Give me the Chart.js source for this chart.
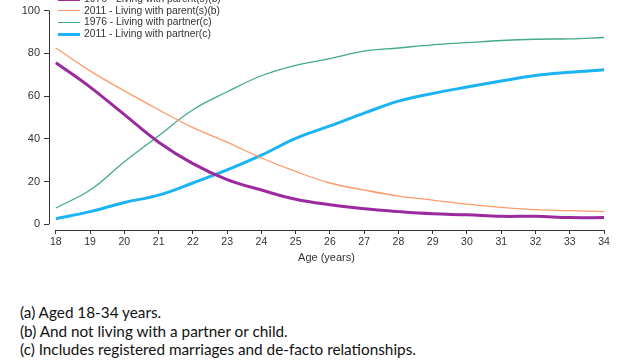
<!DOCTYPE html>
<html>
<head>
<meta charset="utf-8">
<script src="https://cdn.jsdelivr.net/npm/chart.js@4.4.1/dist/chart.umd.min.js"></script>
<style>
  body { margin: 0; width: 640px; height: 360px; background: #fff; position: relative; overflow: hidden; }
  #wrap { position: absolute; left: 0; top: 0; width: 640px; height: 275px; }
  #legend { position: absolute; left: 58px; top: -7px; font: 10.3px "Liberation Sans", sans-serif; color: #333; }
  .item { height: 11.7px; line-height: 11.7px; white-space: nowrap; }
  .swatch { display: inline-block; width: 22px; vertical-align: middle; margin-right: 4px; }
  #notes { position: absolute; left: 20px; top: 303px; font: 15.3px Lato, sans-serif; color: #111; line-height: 18.5px; }
</style>
</head>
<body>
<div id="wrap"><canvas id="myChart"></canvas></div>
<div id="legend"></div>
<div id="notes">
  <div>(a) Aged 18-34 years.</div>
  <div>(b) And not living with a partner or child.</div>
  <div>(c) Includes registered marriages and de-facto relationships.</div>
</div>
<script>
// ages on the x axis
const ages = [18, 19, 20, 21, 22, 23, 24, 25, 26, 27, 28, 29, 30, 31, 32, 33, 34];

// percent of people
const parents1976 = [75.6, 64.2, 51.3, 38.4, 28.4, 20.9, 16.0, 11.7, 9.1, 7.2, 5.9, 4.9, 4.4, 3.7, 3.7, 3.1, 3.1];
const parents2011 = [82.5, 71.8, 62.4, 53.6, 45.2, 38.4, 31.0, 24.7, 19.3, 16.0, 13.2, 11.3, 9.4, 7.9, 6.8, 6.4, 5.9];
const partner1976 = [7.6, 16.0, 29.2, 41.4, 53.6, 62.0, 69.5, 74.4, 77.5, 81.0, 82.5, 84.0, 85.0, 86.0, 86.6, 86.8, 87.4];
const partner2011 = [2.6, 5.9, 10.2, 13.6, 19.3, 25.4, 32.3, 40.2, 46.0, 52.0, 57.6, 61.2, 64.2, 67.0, 69.6, 71.1, 72.3];

const seriesNames = [
	'1976 - Living with parent(s)(b)',
	'2011 - Living with parent(s)(b)',
	'1976 - Living with partner(c)',
	'2011 - Living with partner(c)'
];
const seriesValues = [parents1976, parents2011, partner1976, partner2011];
const colors = ['#9b2a9f', '#ff9966', '#44a88c', '#1ab3f3'];
const widths = [3, 1.3, 1.3, 3];

const yTicks = [0, 20, 40, 60, 80, 100];

// html legend, stacked like the original
const legend = document.getElementById('legend');
seriesNames.forEach((name, i) => {
	let row = document.createElement('div');
	row.className = 'item';
	row.innerHTML = '<span class="swatch" style="border-top:' + widths[i] + 'px solid ' + colors[i] + '"></span>' + name;
	legend.appendChild(row);
});

// axis lines drawn apart from each other, excel style
const axisLines = {
	id: 'axisLines',
	afterDraw(chart) {
		const ctx = chart.ctx;
		const x = chart.scales.x, y = chart.scales.y;
		ctx.save();
		ctx.strokeStyle = '#333';
		ctx.lineWidth = 1;
		ctx.beginPath();
		let left = Math.round(x.left) + 0.5;
		ctx.moveTo(left, y.getPixelForValue(100));
		ctx.lineTo(left, y.getPixelForValue(0));
		let bottom = Math.round(y.bottom) + 0.5;
		ctx.moveTo(x.getPixelForValue(18), bottom);
		ctx.lineTo(x.getPixelForValue(34), bottom);
		ctx.stroke();
		ctx.restore();
	}
};

const datasets = seriesNames.map((name, i) => ({
	label: name,
	data: seriesValues[i].map((v, j) => ({ x: ages[j], y: v })),
	borderColor: colors[i],
	backgroundColor: colors[i],
	borderWidth: widths[i],
	pointRadius: 0,
	tension: 0.4,
	fill: false
}));

new Chart(document.getElementById('myChart'), {
	type: 'line',
	data: { datasets: datasets },
	plugins: [axisLines],
	options: {
		responsive: true,
		maintainAspectRatio: false,
		animation: false,
		layout: { padding: { top: 5, right: 36, left: 0, bottom: 0 } },
		plugins: {
			legend: { display: false },
			tooltip: { enabled: false }
		},
		scales: {
			x: {
				type: 'linear',
				min: 17.8,
				max: 34,
				afterBuildTicks: s => { s.ticks = ages.map(a => ({ value: a })); },
				afterFit: s => { s.height = 45; },
				border: { display: false },
				grid: { drawOnChartArea: false, drawTicks: true, tickLength: 4, color: '#333' },
				ticks: { color: '#333', font: { family: 'Liberation Sans', size: 10.5 }, padding: 2, maxRotation: 0, autoSkip: false },
				title: { display: true, text: 'Age (years)', color: '#333', font: { family: 'Liberation Sans', size: 11 }, padding: { top: 4, bottom: 10 } }
			},
			y: {
				min: -2.7,
				max: 100,
				afterBuildTicks: s => { s.ticks = yTicks.map(t => ({ value: t })); },
				afterFit: s => { s.width = 49; },
				border: { display: false },
				grid: { drawOnChartArea: false, drawTicks: true, tickLength: 5, color: '#333' },
				ticks: { color: '#333', font: { family: 'Liberation Sans', size: 11 }, padding: 4 }
			}
		}
	}
});
</script>
</body>
</html>
